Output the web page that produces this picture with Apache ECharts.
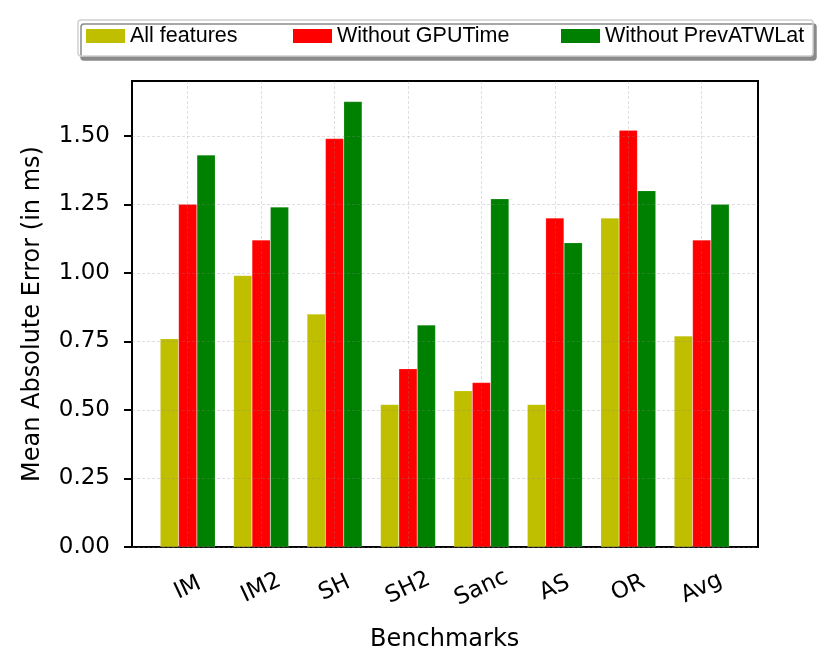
<!DOCTYPE html>
<html lang="en">
<head>
<meta charset="UTF-8">
<title>Mean Absolute Error</title>
<style>
  html, body { margin: 0; padding: 0; background: #fff; }
  #chart { width: 831px; height: 671px; }
</style>
</head>
<body>
<div id="chart"></div>
<script src="https://cdn.jsdelivr.net/npm/echarts@6/dist/echarts.min.js"></script>
<script>
// data
var benchmarks = ['IM', 'IM2', 'SH', 'SH2', 'Sanc', 'AS', 'OR', 'Avg'];
var allFeatures = [0.76, 0.99, 0.85, 0.52, 0.57, 0.52, 1.20, 0.77];
var withoutGpuTime = [1.25, 1.12, 1.49, 0.65, 0.60, 1.20, 1.52, 1.12];
var withoutPrevAtwLat = [1.43, 1.24, 1.625, 0.81, 1.27, 1.11, 1.30, 1.25];
var yTicks = [0, 0.25, 0.5, 0.75, 1.0, 1.25, 1.5];
var seriesNames = ['All features', 'Without GPUTime', 'Without PrevATWLat'];
var colors = ['#bfbf00', '#ff0000', '#008000'];

var chart = echarts.init(document.getElementById('chart'));

var gridLine = { color: 'rgba(140,140,140,0.35)', width: 0.8, type: [3, 2] };
var tickFont = { fontFamily: 'DejaVu Sans', fontSize: 23, color: '#000' };
var nameFont = { fontFamily: 'DejaVu Sans', fontSize: 24, color: '#000' };

var legendLefts = [81, 288, 556];
var legends = seriesNames.map(function (n, i) {
    return {
        data: [n],
        left: legendLefts[i],
        top: 20,
        icon: 'rect',
        itemWidth: 39,
        itemHeight: 14,
        selectedMode: false,
        itemStyle: { borderWidth: 0 },
        textStyle: { fontFamily: 'Liberation Sans', fontSize: 21.5, color: '#000' }
    };
});

var seriesData = [allFeatures, withoutGpuTime, withoutPrevAtwLat];

var option = {
    animation: false,
    backgroundColor: '#fff',
    graphic: [{
        type: 'rect',
        z: 0,
        shape: { x: 78, y: 20, width: 735, height: 36, r: 3 },
        style: {
            fill: '#fff',
            stroke: '#cfcfcf',
            lineWidth: 1.5,
            shadowColor: '#8a8a8a',
            shadowBlur: 0,
            shadowOffsetX: 3,
            shadowOffsetY: 4
        }
    }],
    legend: legends,
    grid: [
        { left: 132, right: 73, top: 81, bottom: 124, show: true, borderColor: '#000', borderWidth: 2 },
        { left: 151, right: 92.6, top: 81, bottom: 124 }
    ],
    xAxis: [
        { gridIndex: 0, type: 'value', min: 0, max: 1, show: false },
        {
            gridIndex: 1,
            type: 'category',
            data: benchmarks,
            z: 3,
            axisLine: { show: false },
            axisTick: { alignWithLabel: true, length: 8, lineStyle: { color: '#000', width: 2 } },
            axisLabel: Object.assign({ rotate: 25, margin: 41, align: 'center', verticalAlign: 'middle', interval: 0 }, tickFont),
            splitLine: { show: true, alignWithLabel: true, lineStyle: gridLine },
            name: 'Benchmarks',
            nameLocation: 'middle',
            nameGap: 81,
            nameTextStyle: nameFont
        }
    ],
    yAxis: [
        {
            gridIndex: 0,
            type: 'value',
            min: 0,
            max: 1.7,
            interval: 0.25,
            z: 3,
            axisLine: { show: false },
            axisTick: { show: true, length: 8, lineStyle: { color: '#000', width: 2 }, customValues: yTicks },
            axisLabel: Object.assign({
                margin: 22,
                customValues: yTicks,
                formatter: function (v) { return v.toFixed(2); }
            }, tickFont),
            splitLine: { show: true, lineStyle: gridLine },
            name: 'Mean Absolute Error (in ms)',
            nameLocation: 'middle',
            nameGap: 87,
            nameTextStyle: nameFont
        },
        { gridIndex: 1, type: 'value', min: 0, max: 1.7, show: false }
    ],
    series: seriesNames.map(function (n, i) {
        return {
            name: n,
            type: 'bar',
            xAxisIndex: 1,
            yAxisIndex: 1,
            data: seriesData[i],
            barWidth: '25%',
            barGap: '0%',
            itemStyle: { color: colors[i], borderColor: 'rgba(255,255,255,0.3)', borderWidth: 0.5 }
        };
    })
};

chart.setOption(option);
</script>
</body>
</html>
